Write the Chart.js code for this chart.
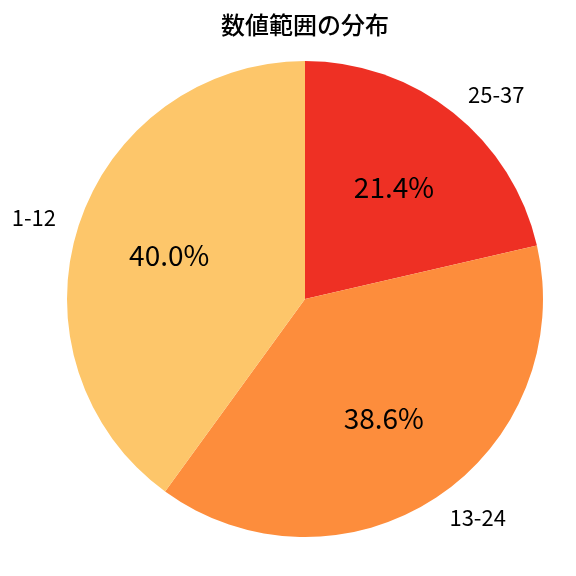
<!DOCTYPE html>
<html>
<head>
<meta charset="utf-8">
<script src="https://cdn.jsdelivr.net/npm/chart.js@4"></script>
<style>
    html, body { margin: 0; padding: 0; background: #fff; }
    #wrap { width: 576px; height: 576px; }
</style>
</head>
<body>
<div id="wrap"><canvas id="grafico" width="576" height="576"></canvas></div>
<script>
// clockwise from 12 o'clock
const categorias = ['25-37', '13-24', '1-12'];
const porcentagens = [21.4, 38.6, 40.0];
const cores = ['#EE3024', '#FD8D3C', '#FDC66A'];
const titulo = '数値範囲の分布';

const fonte = '"Noto Sans CJK JP", "Noto Sans", sans-serif';

// draws the title, category labels outside and the percentages inside
const rotulosPlugin = {
    id: 'rotulos',
    afterDraw(chart) {
        const ctx = chart.ctx;
        const arcs = chart.getDatasetMeta(0).data;
        ctx.save();
        ctx.fillStyle = '#000';
        ctx.textBaseline = 'middle';

        ctx.font = '500 24px ' + fonte;
        ctx.textAlign = 'center';
        ctx.fillText(titulo, 305, 25);

        arcs.forEach((arc, i) => {
            const meio = (arc.startAngle + arc.endAngle) / 2;
            const r = arc.outerRadius;
            const cos = Math.cos(meio), sin = Math.sin(meio);

            ctx.font = '22px ' + fonte;
            ctx.textAlign = cos >= 0 ? 'left' : 'right';
            ctx.fillText(categorias[i], arc.x + cos * r * 1.1, arc.y + sin * r * 1.1);

            ctx.font = '28px ' + fonte;
            ctx.textAlign = 'center';
            ctx.fillText(porcentagens[i].toFixed(1) + '%', arc.x + cos * r * 0.6, arc.y + sin * r * 0.6);
        });
        ctx.restore();
    }
};

new Chart(document.getElementById('grafico').getContext('2d'), {
    type: 'pie',
    data: {
        labels: categorias,
        datasets: [{
            data: porcentagens,
            backgroundColor: cores,
            borderWidth: 0
        }]
    },
    options: {
        responsive: false,
        animation: false,
        layout: { padding: { left: 67, right: 33, top: 61, bottom: 39 } },
        plugins: {
            legend: { display: false },
            tooltip: { enabled: false }
        }
    },
    plugins: [rotulosPlugin]
});
</script>
</body>
</html>
